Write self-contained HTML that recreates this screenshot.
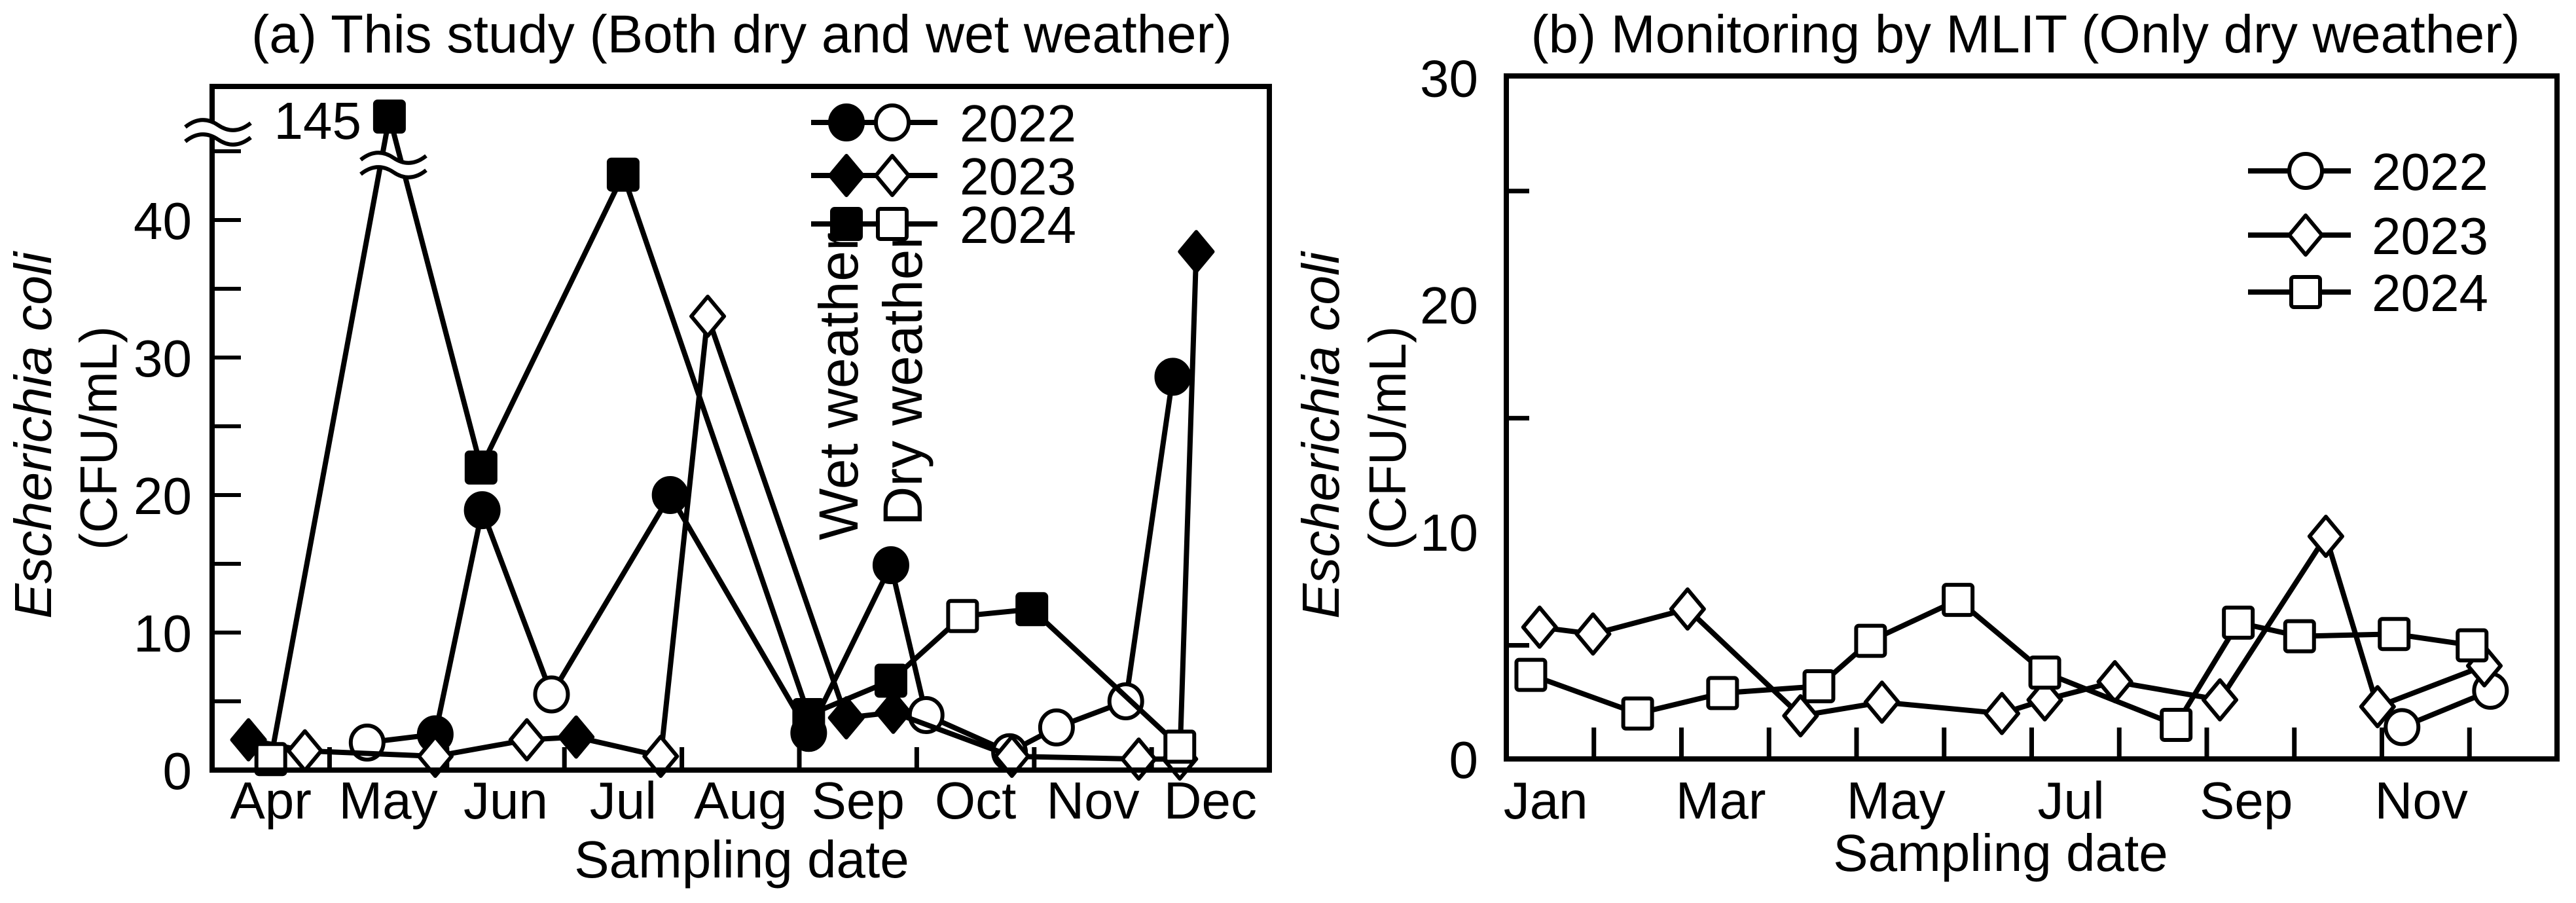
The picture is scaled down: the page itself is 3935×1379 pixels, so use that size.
<!DOCTYPE html>
<html><head><meta charset="utf-8"><style>
html,body{margin:0;padding:0;background:#fff;}
svg{display:block;font-family:"Liberation Sans",Arial,sans-serif;}
</style></head><body>
<svg id="chart" width="3935" height="1379" viewBox="0 0 3935 1379" xmlns="http://www.w3.org/2000/svg">
<rect width="3935" height="1379" fill="#fff"/>
<g id="pa"></g>
<g id="pb"></g>
</svg>
<script>
// ---- Panel (a) data: t = months since Apr 1, v = CFU/mL, w = 1 wet (filled) / 0 dry (open)
const a2022t=[1.32,1.90,2.30,2.89,3.90,5.08,5.78,6.08,6.79,7.19,7.78,8.18];
const a2022v=[2.0,2.6,18.9,5.5,20.0,2.7,14.9,4.0,1.3,3.1,5.0,28.6];
const a2022w=[0,1,1,0,1,1,1,0,0,0,0,1];
const a2023t=[0.31,0.79,1.90,2.68,3.10,3.82,4.22,5.40,5.80,6.81,7.89,8.24,8.38];
const a2023v=[2.2,1.4,1.0,2.2,2.4,1.0,33.0,3.8,4.2,1.0,0.8,0.8,37.7];
const a2023w=[1,0,0,0,1,0,0,1,1,0,0,0,1];
const a2024t=[0.50,1.51,2.29,3.50,5.08,5.78,6.39,6.98,8.24];
const a2024v=[0.8,145,22.0,43.3,4.0,6.5,11.2,11.7,1.7];
const a2024w=[0,1,1,1,1,1,0,1,0];
const aMonths=["Apr","May","Jun","Jul","Aug","Sep","Oct","Nov","Dec"];
const aYTicks=[0,10,20,30,40];
// ---- Panel (b) data: t = months since Jan 1
const b2022t=[10.23,11.24];
const b2022v=[1.4,3.0];
const b2023t=[0.38,0.99,2.07,3.36,4.29,5.66,6.15,6.95,8.15,9.36,9.95,11.17];
const b2023v=[5.8,5.5,6.6,1.9,2.5,2.0,2.6,3.4,2.6,9.8,2.3,4.1];
const b2024t=[0.28,1.50,2.47,3.57,4.16,5.16,6.15,7.65,8.36,9.06,10.14,11.03];
const b2024v=[3.7,2.0,2.9,3.2,5.2,7.0,3.8,1.5,6.0,5.4,5.5,5.0];
const bMonths=["Jan","Mar","May","Jul","Sep","Nov"];
const bMonthIdx=[0,2,4,6,8,10];
const bYTicks=[0,10,20,30];

const NS="http://www.w3.org/2000/svg";
function el(parent,tag,attrs,text){const e=document.createElementNS(NS,tag);for(const k in attrs)e.setAttribute(k,attrs[k]);if(text!==undefined)e.textContent=text;parent.appendChild(e);return e;}

// scales
const A0=1176;
const xA=t=>324+t*179.4;
const yA=v=>v>45?178:A0-v*21.0;
const xB=t=>2301+t*133.75;
const yB=v=>1159-v*34.69;

function marker(g,shape,x,y,filled){
  const fill=filled?"#000":"#fff";const sw=6;let m;
  if(shape==="circle"){m=el(g,"ellipse",{cx:x,cy:y,rx:25,ry:26,fill:fill,stroke:"#000","stroke-width":sw});}
  else if(shape==="diamond"){m=el(g,"polygon",{points:`${x},${y-30} ${x+25},${y} ${x},${y+30} ${x-25},${y}`,fill:fill,stroke:"#000","stroke-width":sw,"stroke-linejoin":"round"});}
  else{m=el(g,"rect",{x:x-22,y:y-23,width:44,height:46,rx:4,fill:fill,stroke:"#000","stroke-width":sw});}
  return m;
}
function series(g,name,ts,vs,ws,shape,xs,ys){
  const sg=el(g,"g",{});
  
  
  const pts=ts.map((t,i)=>xs(t)+","+ys(vs[i])).join(" ");
  el(sg,"polyline",{points:pts,fill:"none",stroke:"#000","stroke-width":8,"stroke-linejoin":"round"});
  ts.forEach((t,i)=>{const m=marker(sg,shape,xs(t),ys(vs[i]),ws?ws[i]===1:false);
    
    });
}
function txt(g,name,x,y,s,opts){
  const a=Object.assign({x:x,y:y,"font-size":80,fill:"#000"},opts||{});
  const t=el(g,"text",a,s);
  
  
  return t;
}

// ===== Panel A =====
const A=document.getElementById("pa");
txt(A,"panel-a-title",1133,80,"(a) This study (Both dry and wet weather)",{"text-anchor":"middle","font-size":82,textLength:1498,lengthAdjust:"spacingAndGlyphs"});
aYTicks.forEach(v=>{txt(A,"y-tick-label",293,yA(v)+29,String(v),{"text-anchor":"end"});});
for(let v=5;v<=45;v+=5){el(A,"line",{x1:324,x2:368,y1:yA(v),y2:yA(v),stroke:"#000","stroke-width":6});}
for(let k=1;k<=8;k++){el(A,"line",{x1:xA(k),x2:xA(k),y1:A0,y2:A0-35,stroke:"#000","stroke-width":7});}
aMonths.forEach((m,i)=>{txt(A,"x-tick-label",xA(i+0.5),1250,m,{"text-anchor":"middle"});});
txt(A,"x-axis-title",1133,1340,"Sampling date",{"text-anchor":"middle"});
txt(A,"y-axis-title",0,0,"Escherichia coli",{"text-anchor":"middle","font-style":"italic",transform:"translate(78,665) rotate(-90)",textLength:560,lengthAdjust:"spacingAndGlyphs"});
txt(A,"y-axis-unit",0,0,"(CFU/mL)",{"text-anchor":"middle",transform:"translate(178,669) rotate(-90)",textLength:342,lengthAdjust:"spacingAndGlyphs"});
series(A,"series-2022",a2022t,a2022v,a2022w,"circle",xA,yA);
series(A,"series-2023",a2023t,a2023v,a2023w,"diamond",xA,yA);
series(A,"series-2024",a2024t,a2024v,a2024w,"square",xA,yA);
// frame
el(A,"rect",{x:324,y:132,width:1615,height:A0-132,fill:"none",stroke:"#000","stroke-width":8});
// axis break
const brk=(g,x,y)=>{
  el(g,"path",{d:`M${x-45},${y-8} q25,-20 50,-3 t50,-3 l0,22 q-25,20 -50,3 t-50,3 z`,fill:"#fff",stroke:"none"});
  el(g,"path",{d:`M${x-45},${y-8} q25,-20 50,-3 t50,-3`,fill:"none",stroke:"#000","stroke-width":6});
  el(g,"path",{d:`M${x-45},${y+14} q25,-20 50,-3 t50,-3`,fill:"none",stroke:"#000","stroke-width":6});
};
brk(A,328,202);
brk(A,596,252);
txt(A,"break-value-label",552,212,"145",{"text-anchor":"end","font-size":80});
// weather labels
txt(A,"wet-weather-label",0,0,"Wet weather",{"text-anchor":"middle","font-size":84,transform:"translate(1310,590) rotate(-90)",textLength:470,lengthAdjust:"spacingAndGlyphs"});
txt(A,"dry-weather-label",0,0,"Dry weather",{"text-anchor":"middle","font-size":84,transform:"translate(1408,578) rotate(-90)",textLength:450,lengthAdjust:"spacingAndGlyphs"});
// legend
const LA=el(A,"g",{});
[["2022","circle",187],["2023","diamond",268],["2024","square",342]].forEach(r=>{
  const lg=el(LA,"g",{});
  
  
  el(lg,"line",{x1:1239,x2:1432,y1:r[2],y2:r[2],stroke:"#000","stroke-width":8});
  marker(lg,r[1],1293,r[2],true);marker(lg,r[1],1363,r[2],false);
  txt(lg,"legend-label",1466,r[2]+29,r[0],{"font-size":80});
});

// ===== Panel B =====
const B=document.getElementById("pb");
txt(B,"panel-b-title",3094,80,"(b) Monitoring by MLIT (Only dry weather)",{"text-anchor":"middle","font-size":82,textLength:1511,lengthAdjust:"spacingAndGlyphs"});
bYTicks.forEach(v=>{txt(B,"y-tick-label",2258,yB(v)+29,String(v),{"text-anchor":"end"});});
for(let v=5;v<=25;v+=10){el(B,"line",{x1:2301,x2:2336,y1:yB(v),y2:yB(v),stroke:"#000","stroke-width":7});}
for(let k=1;k<=11;k++){el(B,"line",{x1:xB(k),x2:xB(k),y1:1159,y2:1111,stroke:"#000","stroke-width":7});}
bMonths.forEach((m,i)=>{txt(B,"x-tick-label",xB(bMonthIdx[i]+0.45),1250,m,{"text-anchor":"middle"});});
txt(B,"x-axis-title",3056,1330,"Sampling date",{"text-anchor":"middle"});
txt(B,"y-axis-title",0,0,"Escherichia coli",{"text-anchor":"middle","font-style":"italic",transform:"translate(2045,665) rotate(-90)",textLength:560,lengthAdjust:"spacingAndGlyphs"});
txt(B,"y-axis-unit",0,0,"(CFU/mL)",{"text-anchor":"middle",transform:"translate(2147,669) rotate(-90)",textLength:342,lengthAdjust:"spacingAndGlyphs"});
series(B,"series-2022",b2022t,b2022v,null,"circle",xB,yB);
series(B,"series-2023",b2023t,b2023v,null,"diamond",xB,yB);
series(B,"series-2024",b2024t,b2024v,null,"square",xB,yB);
el(B,"rect",{x:2301,y:116,width:1605,height:1043,fill:"none",stroke:"#000","stroke-width":8});
const LB=el(B,"g",{});
[["2022","circle",261],["2023","diamond",359],["2024","square",446]].forEach(r=>{
  const lg=el(LB,"g",{});
  
  
  el(lg,"line",{x1:3434,x2:3591,y1:r[2],y2:r[2],stroke:"#000","stroke-width":8});
  marker(lg,r[1],3522,r[2],false);
  txt(lg,"legend-label",3623,r[2]+29,r[0],{"font-size":80});
});
</script>
</body></html>
